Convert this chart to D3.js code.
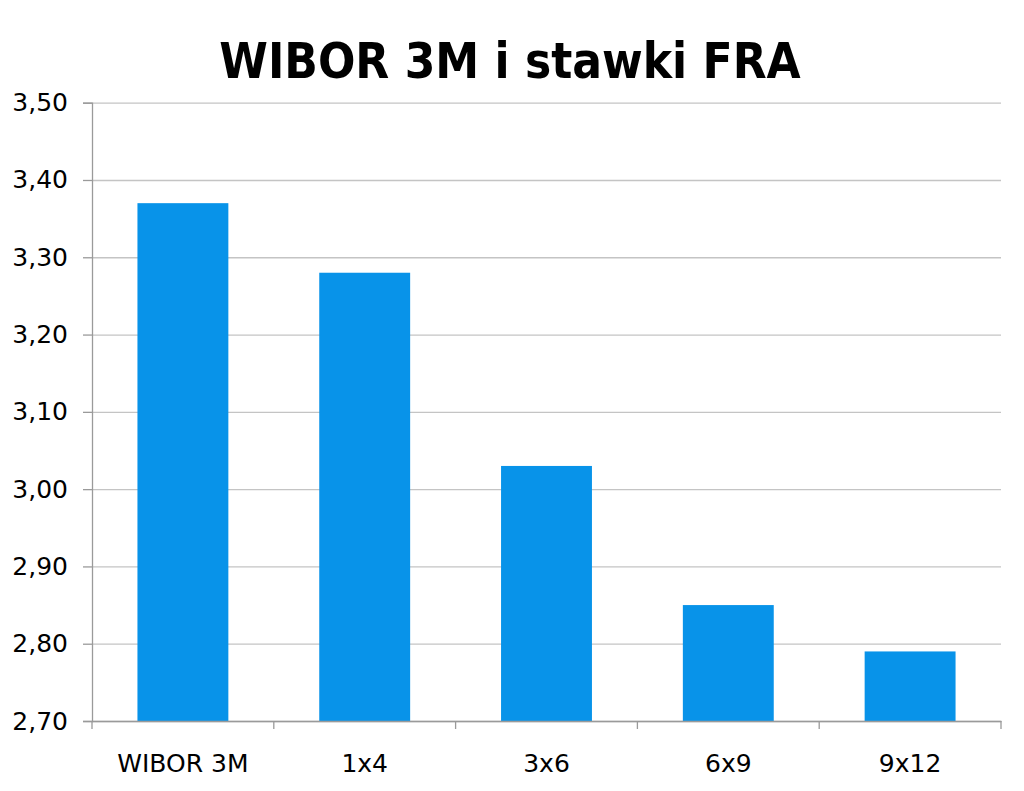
<!DOCTYPE html>
<html>
<head>
<meta charset="utf-8">
<script src="https://cdn.jsdelivr.net/npm/d3@7"></script>
<style>
    body { margin: 0; background: #fff; }
    svg text { fill: #000; }
    .title { font-family: "DejaVu Sans Condensed", "DejaVu Sans", sans-serif; }
    .axis text { font-family: "DejaVu Sans", sans-serif; }
</style>
</head>
<body>
<div id="chart"></div>
<script>
// data
const categories = ["WIBOR 3M", "1x4", "3x6", "6x9", "9x12"];
const rates = [3.37, 3.28, 3.03, 2.85, 2.79];
const yTicks = [2.70, 2.80, 2.90, 3.00, 3.10, 3.20, 3.30, 3.40, 3.50];
const title = "WIBOR 3M i stawki FRA";

function main() {
    const data = categories.map(function(c, i) { return {cat: c, value: rates[i]}; });
    drawBars(data);
}

function drawBars(data) {
    const W = 1024, H = 791;
    const margin = {top: 102.7, right: 23, bottom: 70, left: 92};
    const width = W - margin.left - margin.right;
    const height = H - margin.top - margin.bottom;

    const svg = d3.select("#chart")
        .append("svg")
        .attr("width", W)
        .attr("height", H);

    svg.append("text")
        .attr("class", "title")
        .attr("x", 510)
        .attr("y", 78)
        .attr("text-anchor", "middle")
        .style("font-size", "49px")
        .style("font-weight", "bold")
        .text(title);

    const g = svg.append("g")
        .attr("transform", `translate(${margin.left}, ${margin.top})`);

    const xScale = d3.scaleBand()
        .domain(categories)
        .range([0, width])
        .paddingInner(0.5)
        .paddingOuter(0.25);

    const yScale = d3.scaleLinear()
        .domain([d3.min(yTicks), d3.max(yTicks)])
        .range([height, 0]);

    // gridlines
    g.append("g")
        .attr("class", "grid")
        .call(d3.axisLeft(yScale).tickValues(yTicks).tickSize(-width).tickFormat(""))
        .call(function(s) {
            s.select(".domain").remove();
            s.selectAll("line").attr("stroke", "#c4c4c4").attr("stroke-width", 1.3);
        });

    // bars
    g.selectAll(".bar")
        .data(data)
        .enter()
        .append("rect")
        .attr("class", "bar")
        .attr("x", function(d) { return xScale(d.cat); })
        .attr("y", function(d) { return yScale(d.value); })
        .attr("width", xScale.bandwidth())
        .attr("height", function(d) { return height - yScale(d.value); })
        .style("fill", "#0893e9");

    // y axis
    g.append("g")
        .attr("class", "axis")
        .attr("font-family", null)
        .call(d3.axisLeft(yScale)
            .tickValues(yTicks)
            .tickSize(9)
            .tickPadding(15)
            .tickFormat(function(d) { return d.toFixed(2).replace(".", ","); }))
        .call(function(s) {
            s.attr("font-family", null).attr("font-size", null);
            s.select(".domain").attr("stroke", "#9a9a9a").attr("stroke-width", 1.3);
            s.selectAll("line").attr("stroke", "#9a9a9a").attr("stroke-width", 1.3);
            s.selectAll("text").style("font-size", "25px");
        });

    // x axis: labels under the bars, ticks on the category edges
    const xAxis = g.append("g")
        .attr("class", "axis")
        .attr("transform", `translate(0, ${height})`)
        .call(d3.axisBottom(xScale).tickSize(0).tickPadding(33))
        .call(function(s) {
            s.attr("font-family", null).attr("font-size", null);
            s.select(".domain").attr("stroke", "#9a9a9a").attr("stroke-width", 1.3);
            s.selectAll("text").style("font-size", "25px");
        });

    const edges = categories.map(function(c) { return xScale(c) - xScale.step() * xScale.paddingOuter(); });
    edges.push(width);
    xAxis.selectAll(".edge")
        .data(edges)
        .enter()
        .append("line")
        .attr("class", "edge")
        .attr("x1", function(d) { return d; })
        .attr("x2", function(d) { return d; })
        .attr("y1", 0)
        .attr("y2", 8)
        .attr("stroke", "#9a9a9a")
        .attr("stroke-width", 1.3);
}

main();
</script>
</body>
</html>
